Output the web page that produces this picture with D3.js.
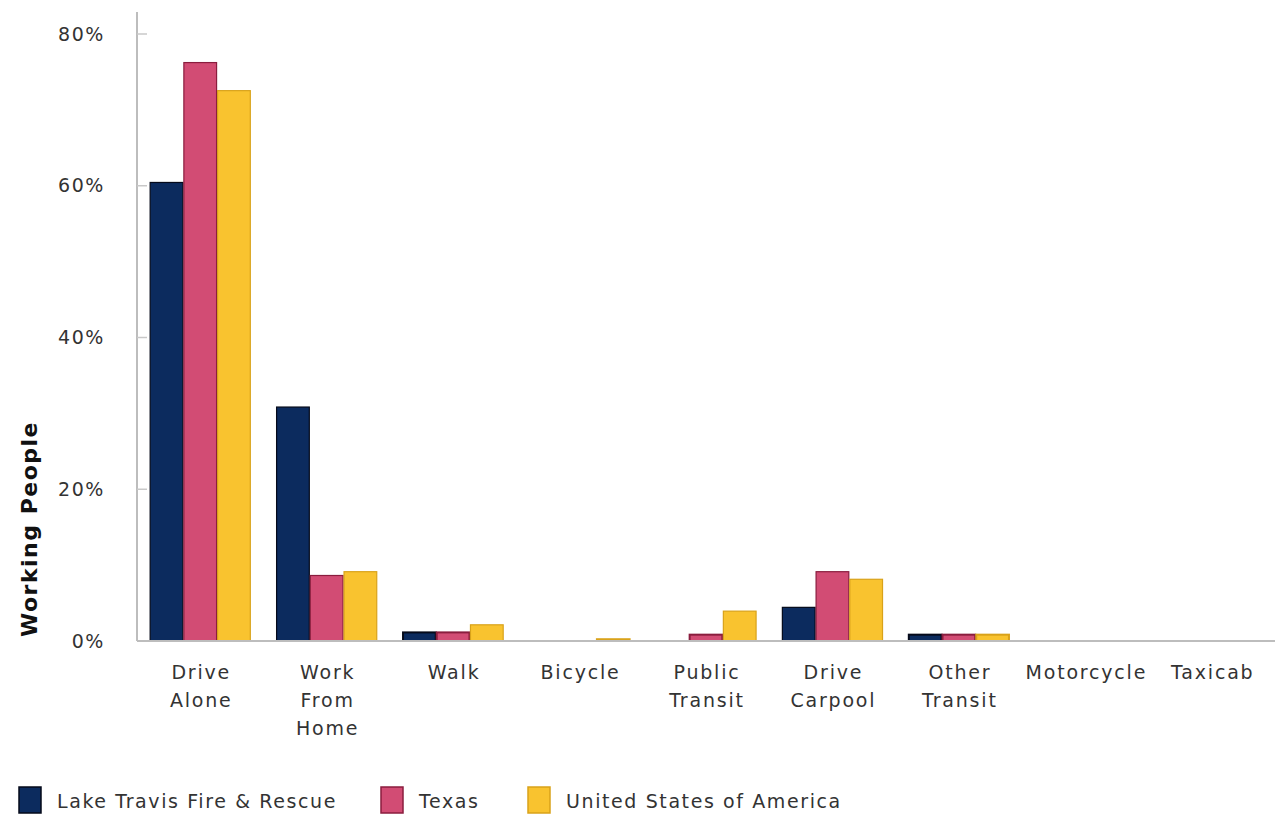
<!DOCTYPE html>
<html><head><meta charset="utf-8">
<script src="https://cdn.jsdelivr.net/npm/d3@7"></script>
<style>body{margin:0;background:#fff}svg{display:block}text{font-family:"DejaVu Sans",Verdana,sans-serif}</style>
</head><body><svg id="c" width="1280" height="818"></svg>
<script>
const categories = [["Drive","Alone"],["Work","From","Home"],["Walk"],["Bicycle"],["Public","Transit"],["Drive","Carpool"],["Other","Transit"],["Motorcycle"],["Taxicab"]];
const seriesNames = ["Lake Travis Fire & Rescue","Texas","United States of America"];
const lakeTravis = [60.5, 30.9, 1.2, 0, 0, 4.5, 0.9, 0, 0];
const texas = [76.3, 8.7, 1.2, 0, 0.9, 9.2, 0.9, 0, 0];
const usa = [72.6, 9.2, 2.2, 0.3, 4.0, 8.2, 0.9, 0, 0];
const yTicks = [0, 20, 40, 60, 80];
const fills = ["#0c2b5e", "#d24c74", "#f9c32f"];
const strokes = ["#050a1a", "#8a1d3e", "#d9a21a"];

const series = [lakeTravis, texas, usa];
const svg = d3.select("#c");
const x0 = d3.scaleBand().domain(d3.range(categories.length)).range([137, 1275]).paddingInner(0.2).paddingOuter(0.1);
const x1 = d3.scaleBand().domain(d3.range(series.length)).range([0, x0.bandwidth()]);
const y = d3.scaleLinear().domain([0, 80]).range([641, 34]);

// y axis line
svg.append("line").attr("x1",137).attr("x2",137).attr("y1",12).attr("y2",641).attr("stroke","#bdbdbd").attr("stroke-width",2);
// ticks
const yt = svg.append("g");
yTicks.forEach(t=>{
  yt.append("line").attr("x1",137).attr("x2",147).attr("y1",y(t)).attr("y2",y(t)).attr("stroke","#c8c8c8").attr("stroke-width",1.5);
  yt.append("text").attr("x",105).attr("y",y(t)).attr("dy","0.35em").attr("text-anchor","end")
    .attr("font-size",19).attr("letter-spacing",1.6).attr("fill","#333").text(t+"%");
});

// bars
const g = svg.append("g");
categories.forEach((c,i)=>{
  series.forEach((s,j)=>{
    const v = s[i];
    if (v<=0) return;
    const h = y(0)-y(v);
    g.append("rect").attr("x", x0(i)+x1(j)+0.5).attr("y", y(v)+0.5)
      .attr("width", x1.bandwidth()-1).attr("height", Math.max(h-0.5,0.5))
      .attr("fill", fills[j]).attr("stroke", strokes[j]).attr("stroke-width", h<10?2:1.2);
  });
});

// x axis
svg.append("line").attr("x1",137).attr("x2",1275).attr("y1",641).attr("y2",641).attr("stroke","#bdbdbd").attr("stroke-width",2);

// category labels
categories.forEach((c,i)=>{
  const cx = x0(i)+x0.bandwidth()/2;
  const t = svg.append("text").attr("x", cx).attr("y",679).attr("text-anchor","middle").attr("font-size",19).attr("letter-spacing",1.8).attr("fill","#333");
  c.forEach((line,k)=>t.append("tspan").attr("x", cx+1).attr("dy", k===0?0:28).text(line));
});

// y label
svg.append("text").attr("transform","translate(37,529) rotate(-90)").attr("text-anchor","middle")
  .attr("font-size",22).attr("font-weight","bold").attr("letter-spacing",1.5).attr("fill","#111").text("Working People");

// legend
const legX = [18, 380, 527];
seriesNames.forEach((n,j)=>{
  svg.append("rect").attr("x",legX[j]+1).attr("y",787).attr("width",22).attr("height",26).attr("fill",fills[j]).attr("stroke",strokes[j]).attr("stroke-width",1.5);
  svg.append("text").attr("x",legX[j]+39).attr("y",801).attr("dy","0.35em").attr("font-size",19).attr("letter-spacing",1.6).attr("fill","#333").text(n);
});
</script></body></html>
